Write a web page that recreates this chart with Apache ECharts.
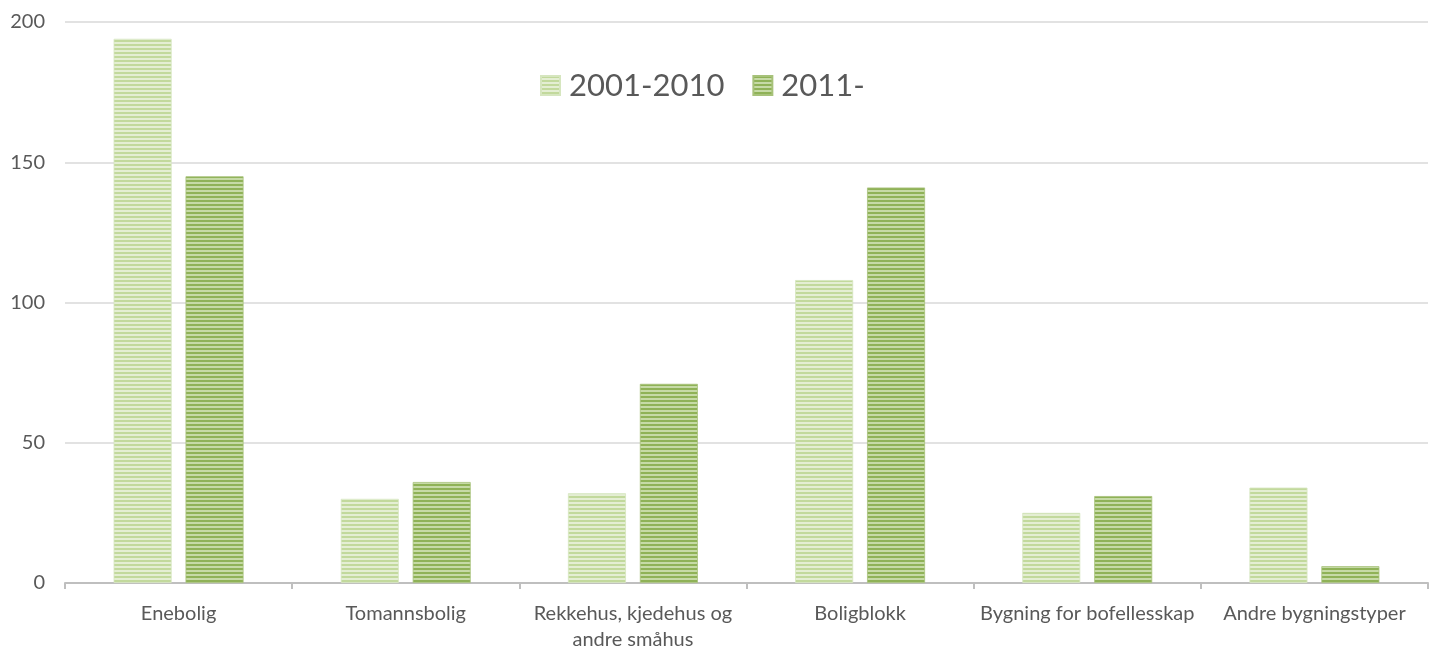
<!DOCTYPE html>
<html>
<head>
<meta charset="utf-8">
<style>
  html, body { margin: 0; padding: 0; background: #ffffff; overflow: hidden; }
  #chart { width: 1436px; height: 653px; }
</style>
<script src="https://cdn.jsdelivr.net/npm/echarts@6/dist/echarts.min.js"></script>
</head>
<body>
<div id="chart"></div>
<script>
// Building types
const categories = [
  'Enebolig',
  'Tomannsbolig',
  'Rekkehus, kjedehus og\nandre småhus',
  'Boligblokk',
  'Bygning for bofellesskap',
  'Andre bygningstyper'
];
const seriesNames = ['2001-2010', '2011-'];
const values2001 = [194, 30, 32, 108, 25, 34];
const values2011 = [145, 36, 71, 141, 31, 6];
const yTicks = [0, 50, 100, 150, 200];

// Horizontal stripe fill for the bars
function stripes(base, light) {
  const c = document.createElement('canvas');
  c.width = 4; c.height = 4;
  const ctx = c.getContext('2d');
  ctx.fillStyle = base; ctx.fillRect(0, 0, 4, 2);
  ctx.fillStyle = light; ctx.fillRect(0, 2, 4, 2);
  return { image: c, repeat: 'repeat' };
}
const fillLight = stripes('#c2d99c', '#e4eed3');
const fillDark = stripes('#8fb257', '#c6daa6');

const font = 'Lato, "Open Sans", sans-serif';
const chart = echarts.init(document.getElementById('chart'), null, { renderer: 'canvas' });
chart.setOption({
  animation: false,
  backgroundColor: '#ffffff',
  textStyle: { fontFamily: font },
  legend: {
    top: 65,
    left: 535,
    icon: 'rect',
    itemWidth: 19,
    itemHeight: 19,
    itemGap: 28,
    textStyle: { fontSize: 31, color: '#595959', fontFamily: font, padding: [0, 0, 0, 4] },
    data: seriesNames
  },
  grid: { left: 65, right: 8, top: 22, bottom: 66, containLabel: false },
  xAxis: {
    type: 'category',
    data: categories,
    axisLine: { lineStyle: { color: '#bfbfbf', width: 2 } },
    axisTick: { show: true, length: 6, lineStyle: { color: '#bfbfbf', width: 2 } },
    axisLabel: { color: '#595959', fontSize: 20, margin: 18, lineHeight: 26, fontFamily: font, interval: 0 }
  },
  yAxis: {
    type: 'value',
    min: yTicks[0],
    max: yTicks[yTicks.length - 1],
    interval: yTicks[1] - yTicks[0],
    axisLine: { show: false },
    axisTick: { show: false },
    axisLabel: { color: '#595959', fontSize: 20, margin: 20, fontFamily: font },
    splitLine: { lineStyle: { color: '#d9d9d9', width: 1.5 } }
  },
  series: [
    {
      name: seriesNames[0],
      type: 'bar',
      data: values2001,
      barWidth: 58,
      barGap: '24%',
      itemStyle: { color: fillLight, borderColor: '#d6e6bf', borderWidth: 0.8 }
    },
    {
      name: seriesNames[1],
      type: 'bar',
      data: values2011,
      barWidth: 58,
      itemStyle: { color: fillDark, borderColor: '#a7c27a', borderWidth: 0.8 }
    }
  ]
});
</script>
</body>
</html>
